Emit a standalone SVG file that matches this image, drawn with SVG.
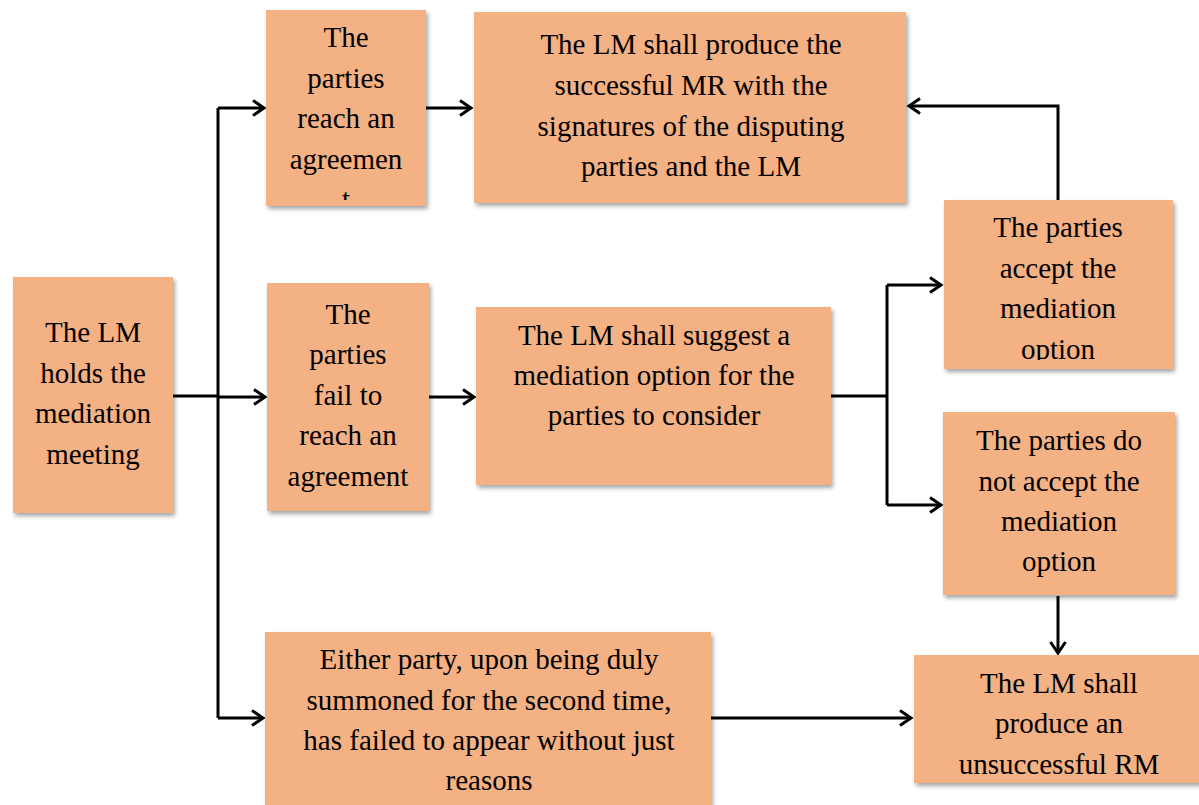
<svg xmlns="http://www.w3.org/2000/svg" width="1199" height="805" viewBox="0 0 1199 805">
<defs>
<style>
.box{fill:#F4B183;filter:url(#sh);}
.t{font-family:"Liberation Serif","Times New Roman",serif;font-size:29px;fill:#000;text-anchor:middle;}
.c{fill:none;stroke:#000;stroke-width:3;}
</style>
<filter id="sh" x="-10%" y="-10%" width="130%" height="130%">
<feDropShadow dx="2" dy="3" stdDeviation="2" flood-color="#000" flood-opacity="0.35"/>
</filter>
<marker id="ah" markerWidth="16" markerHeight="18" refX="13" refY="9" orient="auto" markerUnits="userSpaceOnUse">
<path d="M2,1.5 L13,9 L2,16.5" fill="none" stroke="#000" stroke-width="3"/>
</marker>
<clipPath id="c2"><rect x="266" y="10" width="160" height="190"/></clipPath>
<clipPath id="c4"><rect x="944" y="200" width="229" height="160"/></clipPath>
</defs>
<rect width="1199" height="805" fill="#fff"/>
<g id="connectors">
<path class="c" d="M173,396 L218,396"/>
<path class="c" d="M218,108 L218,718"/>
<path class="c" d="M218,108 L264,108" marker-end="url(#ah)"/>
<path class="c" d="M218,397 L265,397" marker-end="url(#ah)"/>
<path class="c" d="M218,718 L263,718" marker-end="url(#ah)"/>
<path class="c" d="M426,108 L471,108" marker-end="url(#ah)"/>
<path class="c" d="M429,397 L474,397" marker-end="url(#ah)"/>
<path class="c" d="M831,396 L887,396"/>
<path class="c" d="M887,285 L887,505"/>
<path class="c" d="M887,285 L941,285" marker-end="url(#ah)"/>
<path class="c" d="M887,505 L941,505" marker-end="url(#ah)"/>
<path class="c" d="M1058,200 L1058,106 L909,106" marker-end="url(#ah)"/>
<path class="c" d="M1058,596 L1058,653" marker-end="url(#ah)"/>
<path class="c" d="M711,718 L911,718" marker-end="url(#ah)"/>
</g>
<g id="n1">
<rect class="box" x="13" y="277" width="160" height="236"/>
<text class="t"><tspan x="93" y="342">The LM</tspan><tspan x="93" y="383">holds the</tspan><tspan x="93" y="423">mediation</tspan><tspan x="93" y="464">meeting</tspan></text>
</g>
<g id="n2">
<rect class="box" x="266" y="10" width="160" height="196"/>
<text class="t" clip-path="url(#c2)"><tspan x="346" y="47">The</tspan><tspan x="346" y="88">parties</tspan><tspan x="346" y="128">reach an</tspan><tspan x="346" y="169">agreemen</tspan><tspan x="346" y="209">t</tspan></text>
</g>
<g id="n3">
<rect class="box" x="474" y="12" width="432" height="191"/>
<text class="t"><tspan x="691" y="54">The LM shall produce the</tspan><tspan x="691" y="95">successful MR with the</tspan><tspan x="691" y="136">signatures of the disputing</tspan><tspan x="691" y="176">parties and the LM</tspan></text>
</g>
<g id="n4">
<rect class="box" x="944" y="200" width="229" height="169"/>
<text class="t" clip-path="url(#c4)"><tspan x="1058" y="237">The parties</tspan><tspan x="1058" y="278">accept the</tspan><tspan x="1058" y="318">mediation</tspan><tspan x="1058" y="359">option</tspan></text>
</g>
<g id="n5">
<rect class="box" x="267" y="283" width="162" height="228"/>
<text class="t"><tspan x="348" y="324">The</tspan><tspan x="348" y="364">parties</tspan><tspan x="348" y="405">fail to</tspan><tspan x="348" y="445">reach an</tspan><tspan x="348" y="486">agreement</tspan></text>
</g>
<g id="n6">
<rect class="box" x="476" y="307" width="355" height="178"/>
<text class="t"><tspan x="654" y="345">The LM shall suggest a</tspan><tspan x="654" y="385">mediation option for the</tspan><tspan x="654" y="425">parties to consider</tspan></text>
</g>
<g id="n7">
<rect class="box" x="943" y="412" width="232" height="183"/>
<text class="t"><tspan x="1059" y="450">The parties do</tspan><tspan x="1059" y="491">not accept the</tspan><tspan x="1059" y="531">mediation</tspan><tspan x="1059" y="571">option</tspan></text>
</g>
<g id="n8">
<rect class="box" x="265" y="632" width="446" height="180"/>
<text class="t"><tspan x="489" y="669">Either party, upon being duly</tspan><tspan x="489" y="710">summoned for the second time,</tspan><tspan x="489" y="750">has failed to appear without just</tspan><tspan x="489" y="790">reasons</tspan></text>
</g>
<g id="n9">
<rect class="box" x="914" y="655" width="290" height="128"/>
<text class="t"><tspan x="1059" y="693">The LM shall</tspan><tspan x="1059" y="733">produce an</tspan><tspan x="1059" y="774">unsuccessful RM</tspan></text>
</g>
</svg>
